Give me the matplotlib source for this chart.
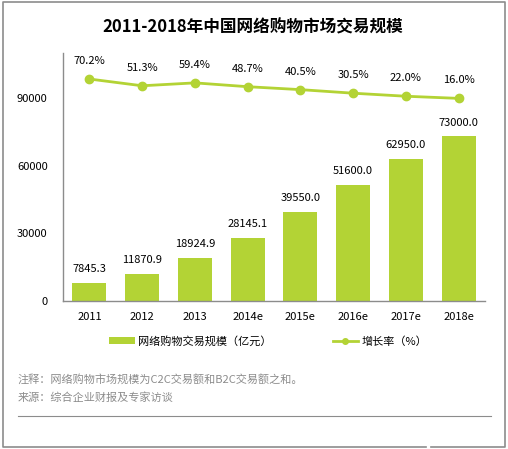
import numpy as np
import matplotlib.pyplot as plt
from matplotlib.lines import Line2D
from matplotlib.patches import Patch

plt.rcParams['font.family'] = ['Noto Sans CJK SC', 'DejaVu Sans']

years = ["2011", "2012", "2013", "2014e", "2015e", "2016e", "2017e", "2018e"]
scale = [7845.3, 11870.9, 18924.9, 28145.1, 39550.0, 51600.0, 62950.0, 73000.0]
growth = [70.2, 51.3, 59.4, 48.7, 40.5, 30.5, 22.0, 16.0]
yticks = [0, 30000, 60000, 90000]

green = "#b3d335"
gray = "#8c8c8c"

W, H = 508, 449
fig = plt.figure(figsize=(W / 100, H / 100), dpi=100)
ax = fig.add_axes([63 / W, 1 - 301 / H, (485 - 63) / W, (301 - 53) / H])

x = np.arange(len(years))
ax.bar(x, scale, width=0.64, color=green, zorder=2)
for xi, v in zip(x, scale):
    ax.annotate(f"{v:.1f}", (xi, v), xytext=(0, 10), textcoords="offset points",
                ha="center", va="center", fontsize=8)

ax.set_xlim(-0.5, len(years) - 0.5)
ax.set_ylim(0, 110000)
ax.set_yticks(yticks)
ax.set_yticklabels([str(t) for t in yticks])
ax.set_xticks(x)
ax.set_xticklabels(years)
ax.tick_params(axis="y", length=0, pad=11, labelsize=8)
ax.tick_params(axis="x", length=0, pad=8, labelsize=8)
for s in ("top", "right"):
    ax.spines[s].set_visible(False)
for s in ("left", "bottom"):
    ax.spines[s].set_color(gray)
    ax.spines[s].set_linewidth(1)

# growth rate on hidden secondary axis
ax2 = ax.twinx()
ax2.plot(x, growth, color=green, lw=2, marker="o", markersize=6, zorder=3)
for xi, g in zip(x, growth):
    ax2.annotate(f"{g:.1f}%", (xi, g), xytext=(0, 13), textcoords="offset points",
                 ha="center", va="center", fontsize=8)
ax2.set_ylim(-551, 143)
ax2.axis("off")

fig.text(253 / W, 1 - 27 / H, "2011-2018年中国网络购物市场交易规模",
         ha="center", va="center", fontsize=12, fontweight="bold")

handles = [Patch(facecolor=green, edgecolor="none"),
           Line2D([], [], color=green, lw=2, marker="o", markersize=4)]
fig.legend(handles, ["网络购物交易规模（亿元）", "增长率（%）"],
           loc="center left", bbox_to_anchor=(109 / W, 1 - 341 / H),
           ncol=2, frameon=False, fontsize=8, borderpad=0, borderaxespad=0,
           handlelength=2.3, handleheight=0.7, handletextpad=0.3, columnspacing=5.5)

fig.text(18 / W, 1 - 379 / H, "注释：网络购物市场规模为C2C交易额和B2C交易额之和。",
         ha="left", va="center", fontsize=8, color=gray)
fig.text(18 / W, 1 - 398 / H, "来源：综合企业财报及专家访谈",
         ha="left", va="center", fontsize=8, color=gray)

fig.add_artist(Line2D([18 / W, 491 / W], [1 - 416 / H, 1 - 416 / H],
                      color=gray, lw=0.8))
# outer frame, with the small gap in the bottom edge
bx = np.array([431, 505, 505, 3, 3, 426]) / W
by = 1 - np.array([446.5, 446.5, 2, 2, 446.5, 446.5]) / H
fig.add_artist(Line2D(bx, by, color=gray, lw=1.2))

fig.savefig("out.png", dpi=100)
